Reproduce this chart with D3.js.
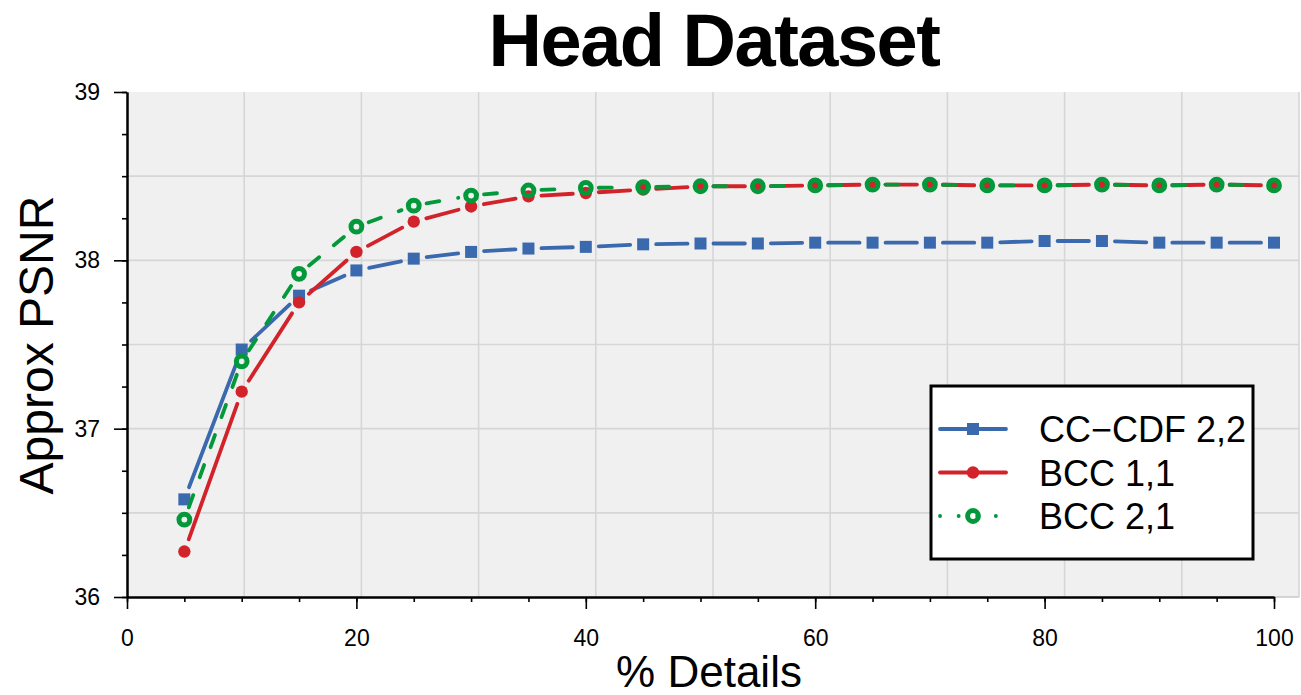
<!DOCTYPE html>
<html>
<head>
<meta charset="utf-8">
<script src="https://cdn.jsdelivr.net/npm/d3@7/dist/d3.min.js"></script>
<style>
  body { margin: 0; background: #fff; }
  svg text { font-family: "Liberation Sans", Arial, Helvetica, sans-serif; fill: #000; }
</style>
</head>
<body>
<svg id="chart" width="1301" height="695"></svg>
<script>
// data
var details = [5, 10, 15, 20, 25, 30, 35, 40, 45, 50, 55, 60, 65, 70, 75, 80, 85, 90, 95, 100];
var ccCdf22 = [36.58, 37.47, 37.79, 37.94, 38.01, 38.05, 38.07, 38.08, 38.095, 38.10,
               38.10, 38.105, 38.105, 38.105, 38.105, 38.115, 38.115, 38.105, 38.105, 38.105];
var bcc11   = [36.27, 37.22, 37.75, 38.05, 38.23, 38.32, 38.38, 38.40, 38.42, 38.44,
               38.44, 38.445, 38.45, 38.45, 38.445, 38.445, 38.45, 38.445, 38.45, 38.445];
var bcc21   = [36.46, 37.40, 37.92, 38.20, 38.325, 38.385, 38.415, 38.43, 38.435, 38.44,
               38.44, 38.445, 38.45, 38.45, 38.445, 38.445, 38.45, 38.445, 38.45, 38.445];
var xMajorTicks = [0, 20, 40, 60, 80, 100];
var yMajorTicks = [36, 37, 38, 39];
var seriesNames = ["CC\u2212CDF 2,2", "BCC 1,1", "BCC 2,1"];

var svg = d3.select("#chart");
var font = "'Liberation Sans', Arial, Helvetica, sans-serif";

var x = d3.scaleLinear().domain([0, 100]).range([127, 1274]);
var y = d3.scaleLinear().domain([36, 39]).range([597, 92]);
// background grid is split into ten equal columns over the whole panel
var gridX = d3.scaleLinear().domain([0, 10]).range([127, 1299]);

var series = [
  { name: seriesNames[0], values: ccCdf22, color: "#3a69ae", marker: "square", dash: null },
  { name: seriesNames[1], values: bcc11,   color: "#d2232b", marker: "dot",    dash: null },
  { name: seriesNames[2], values: bcc21,   color: "#03983a", marker: "ring",   dash: "13,19" }
];

// panel
svg.append("rect")
  .attr("x", 127).attr("y", 92)
  .attr("width", 1299 - 127).attr("height", 597 - 92)
  .attr("fill", "#f0f0f0");

var grid = svg.append("g").attr("class", "grid")
  .attr("stroke", "#d6d6d6").attr("stroke-width", 1.6);
grid.selectAll("line.v")
  .data(d3.range(1, 11))
  .enter().append("line")
  .attr("class", "v")
  .attr("x1", function(d) { return gridX(d); })
  .attr("x2", function(d) { return gridX(d); })
  .attr("y1", 92).attr("y2", 597);
grid.selectAll("line.h")
  .data(d3.range(36.5, 39, 0.5))
  .enter().append("line")
  .attr("class", "h")
  .attr("x1", 127).attr("x2", 1299)
  .attr("y1", function(d) { return y(d); })
  .attr("y2", function(d) { return y(d); });
svg.append("line")
  .attr("x1", 1274).attr("x2", 1299).attr("y1", 597).attr("y2", 597)
  .attr("stroke", "#c8c8c8").attr("stroke-width", 1.5);

// axes
function styleAxis(g) {
  g.select(".domain").attr("stroke", "#000").attr("stroke-width", 2);
  g.selectAll(".tick line").attr("stroke", "#000").attr("stroke-width", 1.6);
  g.selectAll(".tick text").style("font-family", font).style("font-size", "23px").attr("fill", "#000");
}

svg.append("g")
  .attr("transform", "translate(0,597)")
  .call(d3.axisBottom(x).tickValues(d3.range(0, 101, 5)).tickSize(5).tickSizeOuter(0).tickFormat(""))
  .call(styleAxis);
svg.append("g")
  .attr("transform", "translate(0,597)")
  .call(d3.axisBottom(x).tickValues(xMajorTicks).tickSize(12).tickSizeOuter(0).tickPadding(21))
  .call(styleAxis);

svg.append("g")
  .attr("transform", "translate(127,0)")
  .call(d3.axisLeft(y).tickValues(d3.range(36, 39.01, 0.25)).tickSize(5).tickSizeOuter(0).tickFormat(""))
  .call(styleAxis);
svg.append("g")
  .attr("transform", "translate(127,0)")
  .call(d3.axisLeft(y).tickValues(yMajorTicks).tickSize(13).tickSizeOuter(0).tickPadding(14).tickFormat(d3.format("d")))
  .call(styleAxis);

// lines stop short of each marker
var gap = 13;
function drawSeries(s) {
  var pts = details.map(function(d, i) { return [x(d), y(s.values[i])]; });
  var segs = [];
  for (var i = 0; i < pts.length - 1; i++) {
    var a = pts[i], b = pts[i + 1];
    var dx = b[0] - a[0], dy = b[1] - a[1];
    var len = Math.sqrt(dx * dx + dy * dy);
    if (len <= 2 * gap) continue;
    var ux = dx / len, uy = dy / len;
    segs.push([[a[0] + ux * gap, a[1] + uy * gap], [b[0] - ux * gap, b[1] - uy * gap]]);
  }
  var g = svg.append("g").attr("class", "series");
  g.selectAll("path")
    .data(segs)
    .enter().append("path")
    .attr("d", d3.line())
    .attr("fill", "none")
    .attr("stroke", s.color)
    .attr("stroke-width", 3.8)
    .attr("stroke-linecap", "round")
    .attr("stroke-dasharray", s.dash);
  drawMarkers(g, pts, s);
}

function drawMarkers(g, pts, s) {
  if (s.marker === "square") {
    g.selectAll("rect").data(pts).enter().append("rect")
      .attr("x", function(p) { return p[0] - 6; })
      .attr("y", function(p) { return p[1] - 6; })
      .attr("width", 12).attr("height", 12)
      .attr("fill", s.color);
  } else if (s.marker === "dot") {
    g.selectAll("circle").data(pts).enter().append("circle")
      .attr("cx", function(p) { return p[0]; })
      .attr("cy", function(p) { return p[1]; })
      .attr("r", 6.2)
      .attr("fill", s.color);
  } else {
    g.selectAll("circle").data(pts).enter().append("circle")
      .attr("cx", function(p) { return p[0]; })
      .attr("cy", function(p) { return p[1]; })
      .attr("r", 5.4)
      .attr("fill", "none")
      .attr("stroke", s.color)
      .attr("stroke-width", 5);
  }
}

series.forEach(drawSeries);

// legend
var legend = svg.append("g").attr("class", "legend");
legend.append("rect")
  .attr("x", 931).attr("y", 386)
  .attr("width", 322).attr("height", 173)
  .attr("fill", "#fff").attr("stroke", "#000").attr("stroke-width", 3);

var rows = legend.selectAll("g.item")
  .data(series)
  .enter().append("g")
  .attr("class", "item")
  .attr("transform", function(d, i) { return "translate(0," + (429 + i * 43.5) + ")"; });
rows.append("line")
  .attr("x1", 940).attr("x2", 1006)
  .attr("stroke", function(d) { return d.color; })
  .attr("stroke-width", 3.8)
  .attr("stroke-linecap", "round")
  .attr("stroke-dasharray", function(d) { return d.dash ? "0.1,18.5" : null; });
rows.each(function(d) {
  drawMarkers(d3.select(this), [[973, 0]], d);
});
rows.append("text")
  .attr("x", 1039).attr("y", 13)
  .style("font-size", "36px")
  .text(function(d) { return d.name; });

// titles
svg.append("text")
  .attr("x", 714).attr("y", 66)
  .attr("text-anchor", "middle")
  .style("font-size", "74px").style("font-weight", "bold").style("letter-spacing", "-1.5px")
  .text("Head Dataset");

svg.append("text")
  .attr("x", 709).attr("y", 687)
  .attr("text-anchor", "middle")
  .style("font-size", "44px")
  .text("% Details");

svg.append("text")
  .attr("transform", "translate(53,345) rotate(-90)")
  .attr("text-anchor", "middle")
  .style("font-size", "48px")
  .text("Approx PSNR");
</script>
</body>
</html>
